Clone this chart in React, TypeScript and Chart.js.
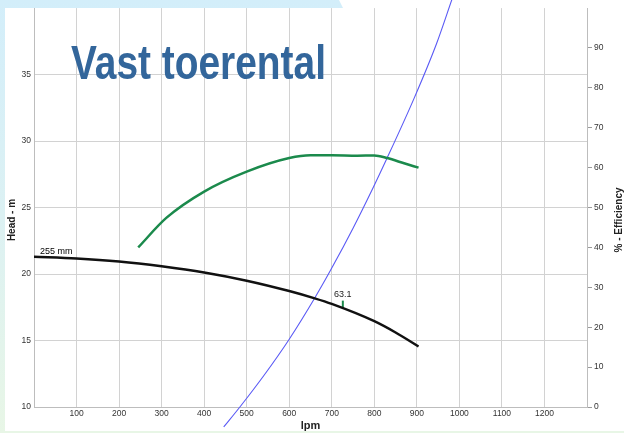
import { useEffect, useRef } from "react";
import { Chart, registerables } from "chart.js";

Chart.register(...registerables);

// ---- data ----
const headFlow = [0, 100, 200, 300, 400, 500, 600, 660, 700, 800, 850, 904];
const headM = [21.3, 21.17, 20.94, 20.58, 20.12, 19.5, 18.72, 18.17, 17.75, 16.45, 15.6, 14.55];

const effFlow = [245, 311, 400, 500, 600, 650, 700, 760, 800, 830, 870, 904];
const effPct = [40, 47.4, 54, 59, 62.4, 63.1, 63.1, 63.0, 63.05, 62.4, 61.1, 60];

const sysFlow = [446, 484, 540, 600, 660, 700, 750, 798, 829, 894, 946, 983];
const sysHead = [8.5, 10, 12.35, 15.1, 18.2, 20.45, 23.45, 26.55, 28.65, 33.25, 37.3, 40.7];

const bepFlow = [726, 726];
const bepHead = [17.45, 18.0];
const bepLabel = "63.1";
const impellerLabel = "255 mm";

const xRange = [0, 1300];
const xStep = 100;
const headRange = [10, 40];
const headStep = 5;
const effRange = [0, 100];
const effStep = 10;

const titleText = "Vast toerental";
const headTitle = "Head - m";
const effTitle = "% - Efficiency";
const flowTitle = "lpm";

const toPts = (xs: number[], ys: number[]) => xs.map((x, i) => ({ x, y: ys[i] }));

const TICK_FONT = { family: "'Liberation Sans', Arial, sans-serif", size: 8.5 };
const TICK_COLOR = "#333333";
const GRID = "#d2d2d2";

const labelsPlugin = {
  id: "pumpLabels",
  afterDatasetsDraw(chart: any) {
    const { ctx, scales } = chart;
    const x = scales.x;
    const y = scales.y;
    ctx.save();
    ctx.fillStyle = "#000";
    ctx.font = "9px 'Liberation Sans', Arial, sans-serif";
    ctx.textBaseline = "alphabetic";
    ctx.textAlign = "left";
    ctx.fillText(impellerLabel, x.getPixelForValue(headFlow[0]) + 6, y.getPixelForValue(headM[0]) - 2.5);
    ctx.textAlign = "center";
    ctx.fillStyle = "#222";
    ctx.fillText(bepLabel, x.getPixelForValue(bepFlow[0]), y.getPixelForValue(bepHead[1]) - 3.5);
    ctx.restore();
  },
  afterDraw(chart: any) {
    const { ctx, chartArea } = chart;
    ctx.save();
    ctx.fillStyle = "#222";
    ctx.font = "bold 10px 'Liberation Sans', Arial, sans-serif";
    ctx.textAlign = "center";
    ctx.textBaseline = "middle";
    const midY = 220;
    ctx.save();
    ctx.translate(12, midY);
    ctx.rotate(-Math.PI / 2);
    ctx.fillText(headTitle, 0, 0);
    ctx.restore();
    ctx.save();
    ctx.translate(619, midY);
    ctx.rotate(-Math.PI / 2);
    ctx.fillText(effTitle, 0, 0);
    ctx.restore();
    ctx.font = "bold 11px 'Liberation Sans', Arial, sans-serif";
    ctx.fillText(flowTitle, (chartArea.left + chartArea.right) / 2, 426);
    ctx.restore();
  },
};

function PumpChart() {
  const ref = useRef<HTMLCanvasElement | null>(null);
  useEffect(() => {
    if (!ref.current) return;
    const chart = new Chart(ref.current, {
      type: "line",
      data: {
        datasets: [
          {
            label: "Head",
            data: toPts(headFlow, headM),
            yAxisID: "y",
            borderColor: "#111111",
            borderWidth: 2.5,
            pointRadius: 0,
            cubicInterpolationMode: "monotone",
          },
          {
            label: "Efficiency",
            data: toPts(effFlow, effPct),
            yAxisID: "y1",
            borderColor: "#1b8a4c",
            borderWidth: 2.5,
            pointRadius: 0,
            cubicInterpolationMode: "monotone",
          },
          {
            label: "System",
            data: toPts(sysFlow, sysHead),
            yAxisID: "y",
            borderColor: "#5a5af5",
            borderWidth: 1.1,
            pointRadius: 0,
            cubicInterpolationMode: "monotone",
            clip: false,
          },
          {
            label: "BEP",
            data: toPts(bepFlow, bepHead),
            yAxisID: "y",
            borderColor: "#1b8a4c",
            borderWidth: 2,
            pointRadius: 0,
          },
        ],
      } as any,
      options: {
        animation: false,
        responsive: false,
        maintainAspectRatio: false,
        devicePixelRatio: 1,
        layout: { padding: { top: 8, left: 0, right: 0, bottom: 0 } },
        plugins: { legend: { display: false }, tooltip: { enabled: false }, title: { display: false } },
        scales: {
          x: {
            type: "linear",
            min: xRange[0],
            max: xRange[1],
            ticks: {
              stepSize: xStep,
              autoSkip: false,
              maxRotation: 0,
              padding: 2,
              font: TICK_FONT,
              color: TICK_COLOR,
              callback: (v: any) => (v === xRange[0] || v === xRange[1] ? "" : String(v)),
            },
            grid: { color: GRID, drawTicks: false },
            border: { color: "#bdbdbd" },
            afterFit: (s: any) => {
              s.height = 26;
            },
          },
          y: {
            position: "left",
            min: headRange[0],
            max: headRange[1],
            ticks: {
              stepSize: headStep,
              padding: 3,
              font: TICK_FONT,
              color: TICK_COLOR,
              callback: (v: any) => (v === headRange[1] ? "" : String(v)),
            },
            grid: {
              drawTicks: false,
              color: (c: any) => (c.tick && c.tick.value === headRange[1] ? "rgba(0,0,0,0)" : GRID),
            },
            border: { color: "#bdbdbd" },
            afterFit: (s: any) => {
              s.width = 34;
            },
          },
          y1: {
            position: "right",
            min: effRange[0],
            max: effRange[1],
            ticks: {
              stepSize: effStep,
              padding: 2,
              font: TICK_FONT,
              color: TICK_COLOR,
              callback: (v: any) => (v === effRange[1] ? "" : String(v)),
            },
            grid: {
              drawOnChartArea: false,
              drawTicks: true,
              tickLength: 5,
              color: (c: any) => (c.tick && c.tick.value === effRange[1] ? "rgba(0,0,0,0)" : "#9a9a9a"),
            },
            border: { color: "#bdbdbd" },
            afterFit: (s: any) => {
              s.width = 37;
            },
          },
        },
      } as any,
      plugins: [labelsPlugin],
    });
    return () => chart.destroy();
  }, []);
  return (
    <canvas
      ref={ref}
      width={624}
      height={433}
      style={{ position: "absolute", left: 0, top: 0, width: 624, height: 433 }}
    />
  );
}

export default function App() {
  return (
    <div
      style={{
        position: "fixed",
        left: 0,
        top: 0,
        width: 624,
        height: 433,
        overflow: "hidden",
        background: "linear-gradient(to bottom, #d3eefa 0%, #dcf1f3 50%, #e8f6e6 100%)",
      }}
    >
      <div
        style={{
          position: "absolute",
          left: 0,
          top: 0,
          width: 624,
          height: 433,
          background: "#ffffff",
          clipPath: "polygon(5px 8px, 343px 8px, 339px 0px, 624px 0px, 624px 431px, 5px 431px)",
        }}
      />
      <PumpChart />
      <div
        style={{
          position: "absolute",
          left: 71,
          top: 39,
          fontFamily: "'Liberation Sans', Arial, sans-serif",
          fontWeight: "bold",
          fontSize: 48,
          lineHeight: "48px",
          color: "#33669b",
          whiteSpace: "nowrap",
          transform: "scaleX(0.81)",
          transformOrigin: "left top",
          letterSpacing: 0,
        }}
      >
        {titleText}
      </div>
    </div>
  );
}
